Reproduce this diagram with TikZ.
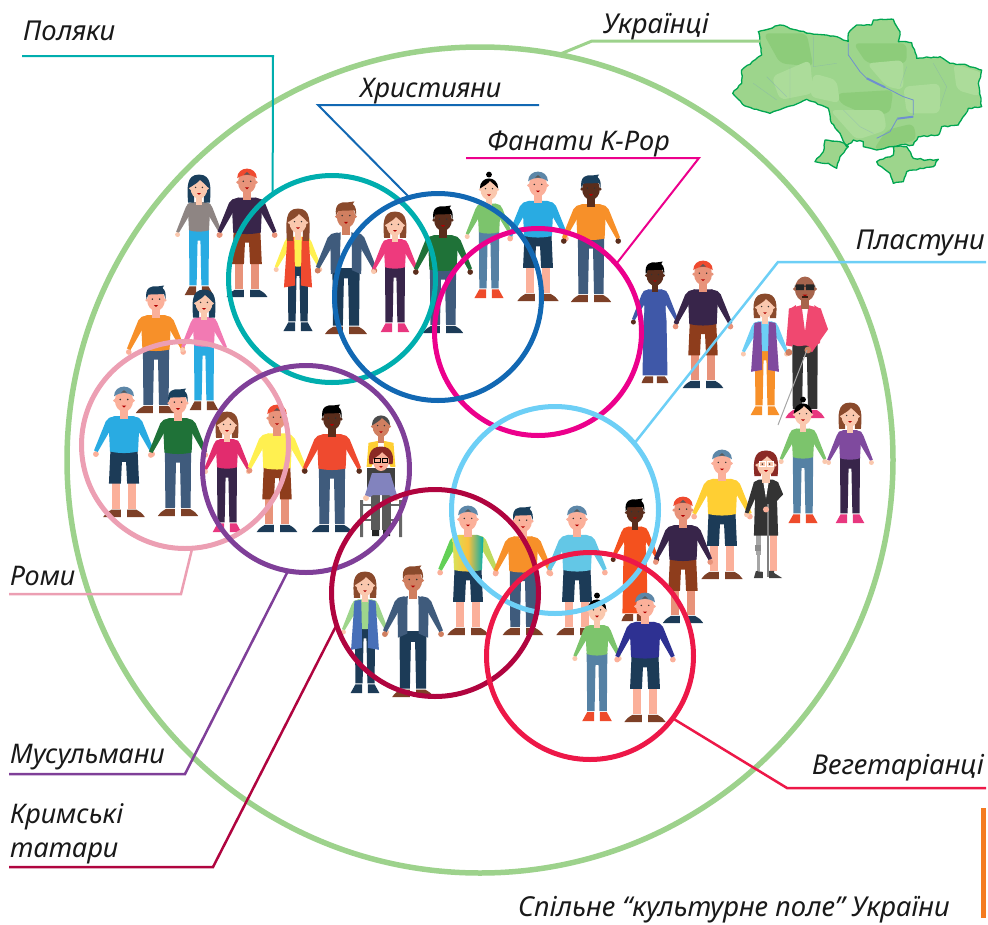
\documentclass[tikz,border=0pt]{standalone}
\usepackage{fontspec}
\usetikzlibrary{decorations.pathmorphing}
\setmainfont{Noto Sans}
\definecolor{cOuter}{HTML}{9DD28C}
\definecolor{cTeal}{HTML}{00AEAE}
\definecolor{cBlue}{HTML}{1268B3}
\definecolor{cMag}{HTML}{EC008C}
\definecolor{cLBlue}{HTML}{6DCFF6}
\definecolor{cCrim}{HTML}{ED1848}
\definecolor{cDRed}{HTML}{B0043F}
\definecolor{cPurp}{HTML}{7F3F98}
\definecolor{cPink}{HTML}{EC9FB3}
\definecolor{cBar}{HTML}{F47B20}
\definecolor{skL}{HTML}{FAC8AE}
\definecolor{skP}{HTML}{FBB09A}
\definecolor{skM}{HTML}{E8937A}
\definecolor{skT}{HTML}{D07F60}
\definecolor{skD}{HTML}{5A2D1C}
\definecolor{hNavy}{HTML}{1A3F5C}
\definecolor{hBrown}{HTML}{8A4A2C}
\definecolor{hRed}{HTML}{8B2A25}
\definecolor{capB}{HTML}{5D87A8}
\definecolor{capR}{HTML}{EF4A2F}
\definecolor{pNavy}{HTML}{1C3B57}
\definecolor{pSlate}{HTML}{3F5B7C}
\definecolor{pSteel}{HTML}{5581A4}
\definecolor{pPlum}{HTML}{38254A}
\definecolor{pCyan}{HTML}{29ABE2}
\definecolor{pRust}{HTML}{8E3D1C}
\definecolor{sGrey}{HTML}{8E8583}
\definecolor{sYell}{HTML}{FFF050}
\definecolor{sGold}{HTML}{FFCF33}
\definecolor{sRed}{HTML}{EF4A2F}
\definecolor{sHot}{HTML}{EE3A7D}
\definecolor{sGreen}{HTML}{1F7238}
\definecolor{sLime}{HTML}{7CC46C}
\definecolor{sOrange}{HTML}{F79029}
\definecolor{sPink}{HTML}{F27AB3}
\definecolor{sSky}{HTML}{63C7E6}
\definecolor{sIndigo}{HTML}{2E3192}
\definecolor{sPurple}{HTML}{7F4A9E}
\definecolor{sDress}{HTML}{3F58A8}
\definecolor{sOrD}{HTML}{F4511E}
\definecolor{sRose}{HTML}{F04870}
\definecolor{fBrown}{HTML}{7D4027}
\definecolor{fPink}{HTML}{E8377F}
\definecolor{fRed}{HTML}{EE4B2B}
\definecolor{mapEdge}{HTML}{00A651}
\definecolor{mapBase}{HTML}{9DD58C}
\definecolor{mapDark}{HTML}{8DCC7A}
\definecolor{mapLight}{HTML}{ACDC9A}
\definecolor{mapRiver}{HTML}{6F8FD0}
\newcommand\mirrored[1]{\foreach \s in {1,-1}{\begin{scope}[xscale=\s]#1\end{scope}}}
\newcommand\person[4]{\begin{scope}[shift={(#1,#2)},scale={(#3-#2)/125}]#4\end{scope}}
% legs
\newcommand\legsM[2]{\fill[#1] (-13,60)--(13,60)--(12.5,117)--(3,117)--(2,72)--(-2,72)--(-3,117)--(-12.5,117)--cycle;
 \mirrored{\fill[#2] (3,118)--(3,125)--(20,125)..controls(17,121)..(12,118)--cycle;}}
\newcommand\legsW[2]{\fill[#1] (-10.5,56)--(10.5,56)--(10,115)--(2.5,115)--(1.5,68)--(-1.5,68)--(-2.5,115)--(-10,115)--cycle;
 \mirrored{\fill[#2] (3,116)--(3,125)--(15,125)..controls(13,120)..(10,116)--cycle;}}
\newcommand\shorts[3]{\mirrored{\fill[#2] (4,88) rectangle (12,117);}
 \fill[#1] (-13,60)--(13,60)--(14.5,93)--(3,93)--(2,72)--(-2,72)--(-3,93)--(-14.5,93)--cycle;
 \mirrored{\fill[#3] (3,118)--(3,125)--(20,125)..controls(17,121)..(12,118)--cycle;}}
\newcommand\dress[2]{\mirrored{\fill[#2] (2,118)--(2,125)--(14,125)..controls(12,120)..(10,118)--cycle;}
 \fill[#1] (-9,30)--(9,30)--(12,60)--(13,117)--(-13,117)--(-12,60)--cycle;}
% bodies
\newcommand\armM[2]{\fill[#2] (27,64.5) circle (2.8);\fill[#1] (8,28)--(14,29.5)--(17.5,33)--(28.8,61)--(25.3,62.5)--(13.5,42)--cycle;}
\newcommand\armW[2]{\fill[#2] (22.5,61.5) circle (2.6);\fill[#1] (6,27.5)--(11.5,29)--(14,33)--(24,58.5)--(21,59.5)--(10.5,42)--cycle;}
\newcommand\bodyM[2]{\mirrored{\armM{#1}{#2}}
 \fill[#1] (-9,28)--(9,28)--(15,30.5)--(13.5,62)..controls(5,64)and(-5,64)..(-13.5,62)--(-15,30.5)--cycle;}
\newcommand\bodyW[2]{\mirrored{\armW{#1}{#2}}
 \fill[#1] (-7,27.5)--(7,27.5)--(12,30)--(10.5,57)..controls(4,59)and(-4,59)..(-10.5,57)--(-12,30)--cycle;}
\newcommand\blazer[2]{\mirrored{\armM{#1}{#2}}
 \fill[white] (-6,28) rectangle (6,62);
 \mirrored{\fill[#1] (5,28)--(15,30.5)--(14.5,68)--(5.5,64)--(5.5,42)--cycle;}}
\newcommand\vest[1]{\mirrored{\fill[#1] (4,28)--(11,29)--(14.5,80)--(3,78)--(3.5,45)--cycle;}}
% heads
\newcommand\head[1]{\fill[#1] (-3.5,17) rectangle (3.5,30.5);
 \fill[#1] (-9,13) circle (1.6) (9,13) circle (1.6);
 \fill[#1] (0,13) ellipse (8.8 and 10.8);
 \fill[black!80] (-3.6,12) circle (.8) (3.6,12) circle (.8);
 \fill[red!70!black] (-2,18)--(2,18)--(0,19.8)--cycle;}
\newcommand\hShort[1]{\fill[#1] (-9.5,12)..controls(-11.5,0)and(-4,-1.5)..(1,-.5)--(8,-1.5)--(6.5,1)..controls(9.5,3)and(10,8)..(9.5,12)--(8,7)--(-7.5,7.5)--cycle;}
\newcommand\hCap[1]{\fill[#1] (-9.6,9)..controls(-9.6,-3.5)and(9.6,-3.5)..(9.6,9)..controls(3,4.5)and(-3,4.5)..(-9.6,9)--cycle;
 \fill[black!65] (-3,5.5)--(3,5.5)--(0,3)--cycle;}
\newcommand\hBack[2]{\fill[#1] (0,-1.5)..controls(-13.5,-1.5)and(-12.5,12)..(-11.5,#2)--(-5,#2)--(-5,10)--(5,10)--(5,#2)--(11.5,#2)..controls(12.5,12)and(13.5,-1.5)..(0,-1.5)--cycle;}
\newcommand\hFringe[1]{\fill[#1] (-9.5,12)..controls(-9.5,-2)and(9.5,-2)..(9.5,12)..controls(6,8)and(3,6)..(1,4)..controls(-1,7)and(-5,9)..(-9.5,12)--cycle;}
\newcommand\hBun{\fill[black] (0,-2.5) circle (3);\hFringe{black}}
% assembled
\newcommand\wom[7]{\legsW{#3}{#4}\bodyW{#2}{#1}\hBack{#5}{#6}\head{#1}\hFringe{#5}#7}
\newcommand\bunw[4]{\legsW{#3}{#4}\bodyW{#2}{#1}\head{#1}\hBun}
\newcommand\mlong[6]{\legsM{#3}{#4}\bodyM{#2}{#1}\head{#1}#5{#6}}
\newcommand\mshort[6]{\shorts{#3}{#1}{#4}\bodyM{#2}{#1}\head{#1}#5{#6}}
\tikzset{
 ring/.style={circle,draw=#1,line width=5pt,minimum size=207pt,inner sep=0pt,outer sep=0pt},
 lab/.style={font=\fontsize{27}{34}\selectfont\itshape,inner sep=0pt,text=black!90},
 labwide/.style={font=\fontsize{27.4}{34}\selectfont\itshape,inner sep=0pt,text=black!90},
 conn/.style={draw=#1,line width=2pt,line join=miter},
 wiggle/.style={decorate,decoration={random steps,segment length=3.5pt,amplitude=.7pt}}
}
\pgfmathsetseed{7}
\begin{document}
\begin{tikzpicture}[x=1pt,y=-1pt]
\useasboundingbox (0,0) rectangle (988,924);
% map
\begin{scope}[shift={(700,0)},scale=1/3]
 \def\mainland{(175,95)--(240,75)--(290,90)--(330,100)--(400,108)--(445,125)--(445,100)--(470,75)--(515,75)--(520,60)--(580,58)--(600,95)--(595,125)--(635,128)--(650,175)--(720,170)--(750,190)--(800,195)--(845,210)--(835,250)--(845,320)--(805,325)--(775,375)--(725,380)--(715,405)--(655,410)--(640,435)--(600,435)--(530,450)--(490,440)--(490,425)--(460,420)--(440,440)--(420,400)--(395,370)--(385,325)--(320,298)--(270,318)--(210,340)--(135,318)--(98,280)--(125,250)--(125,210)--(185,165)--cycle}
 \def\budjak{(375,420)--(420,425)--(445,440)--(420,470)--(410,505)--(385,490)--(345,485)--(370,455)--cycle}
 \def\crimea{(530,485)--(580,465)--(580,440)--(620,440)--(640,475)--(680,480)--(715,478)--(700,500)--(660,505)--(620,515)--(610,545)--(580,550)--(570,520)--(535,495)--cycle}
 \fill[mapBase] \mainland;
 \begin{scope}
  \clip \mainland;
  \fill[mapDark,rounded corners=6pt] (410,280)--(580,270)--(570,340)--(500,345)--(420,310)--cycle;
  \fill[mapDark,rounded corners=6pt] (190,100)--(320,100)--(340,200)--(240,190)--cycle;
  \fill[mapDark,rounded corners=6pt] (460,130)--(620,130)--(620,190)--(500,190)--cycle;
  \fill[mapDark,rounded corners=6pt] (560,390)--(640,370)--(650,420)--(520,450)--cycle;
  \fill[mapLight,rounded corners=6pt] (215,230)--(330,180)--(340,280)--(240,300)--cycle;
  \fill[mapLight,rounded corners=6pt] (340,220)--(410,240)--(420,310)--(330,290)--cycle;
  \fill[mapLight,rounded corners=6pt] (390,330)--(550,330)--(560,390)--(470,420)--cycle;
  \fill[mapLight,rounded corners=6pt] (500,190)--(610,180)--(610,270)--(560,260)--cycle;
  \fill[mapLight,rounded corners=6pt] (610,260)--(720,250)--(720,340)--(620,340)--cycle;
  \fill[mapLight,rounded corners=6pt] (760,190)--(850,220)--(840,290)--(770,270)--cycle;
  \draw[mapRiver,opacity=.3,line width=.4pt] (200,230)--(260,290) (270,200)--(270,300) (340,110)--(340,200)--(410,190) (620,200)--(600,260) (700,190)--(740,260)--(720,320) (430,330)--(480,380)--(520,400) (160,250)--(230,300);
 \end{scope}
 \fill[mapBase] \budjak;
 \draw[mapEdge,line width=1.3pt,line join=round,wiggle] \budjak;
 \fill[mapBase] \crimea;
 \draw[mapEdge,line width=1.3pt,line join=round,wiggle] \crimea;
 \draw[mapEdge,line width=1.3pt,line join=round,wiggle] \mainland;
 \draw[mapRiver,line width=.8pt] (445,130)--(445,165)--(480,215)--(500,235);
 \draw[mapRiver,line width=2pt] (500,235)--(555,262);
 \draw[mapRiver,line width=.8pt] (555,262)--(610,290)--(640,300)--(640,345);
 \draw[mapRiver,line width=2pt] (640,350)--(592,356);
 \draw[mapRiver,line width=.8pt] (592,356)--(570,395)--(530,415);
\end{scope}
% top group
\person{199}{176}{295}{\wom{skL}{sGrey}{pCyan}{fBrown}{hNavy}{28}{}}
\person{247}{169}{297}{\mshort{skM}{pPlum}{pRust}{pNavy}{\hCap}{capR}}
\person{298}{210}{331}{\legsW{pNavy}{pNavy}\bodyW{sYell}{skL}\vest{sRed}\hBack{hBrown}{32}\head{skL}\hFringe{hBrown}}
\person{346}{203}{334}{\legsM{pNavy}{fBrown}\blazer{pSlate}{skT}\head{skT}\hShort{hBrown}}
\person{395}{213}{332}{\wom{skL}{sHot}{pPlum}{fPink}{hBrown}{26}{}}
\person{443}{207}{333}{\legsM{pSlate}{pNavy}\bodyM{sGreen}{skD}\head{skD}\hShort{black}}
\person{489}{177}{298}{\bunw{skL}{sLime}{pSteel}{fRed}}
\person{538}{172}{301}{\mshort{skP}{pCyan}{pNavy}{fBrown}{\hCap}{capB}}
\person{591}{176}{302}{\mlong{skD}{sOrange}{pSlate}{fBrown}{\hShort}{hNavy}}
\person{655}{263}{383}{\dress{sDress}{fBrown}\bodyW{sDress}{skD}\head{skD}\hShort{black}}
\person{703}{261}{388}{\mshort{skM}{pPlum}{pRust}{pNavy}{\hCap}{capR}}
% right group
\person{765}{295}{415}{\legsW{sOrange}{sOrange}\bodyW{cLBlue}{skL}\vest{sPurple}\hBack{hBrown}{24}\head{skL}\hFringe{hBrown}}
% blind man with cane
\person{805}{274}{418}{%
 \begin{scope}[xscale=.85]\legsM{black!80}{fPink}\end{scope}
 \fill[skT] (-14,68) circle (3);
 \fill[sRose] (-8,27)--(-14,31)--(-16.5,62)--(-11,63)--(-8,42)--cycle;
 \fill[sRose] (8,27)--(14,31)--(20,48)--(6,68)--(2.5,64)--(12,48)--cycle;
 \fill[skT] (2.5,66) circle (3);
 \fill[white] (-5,28) rectangle (5,50);
 \mirrored{\fill[sRose] (3,27)--(14,30)--(13,60)..controls(7,63)..(0,62)--(0,50)--cycle;}
 \head{skT!80!black}
 \fill[black!85] (-8,9) rectangle (-1,14) (1,9) rectangle (8,14) (-9,10) rectangle (9,11);
 \fill[black!60!hBrown] (-3,19) rectangle (3,21);}
\draw[black!35,line width=1pt] (807,350)--(778,425);
\person{803}{402}{523}{\bunw{skL}{sLime}{pSteel}{fRed}}
\person{850}{404}{523}{\wom{skL}{sPurple}{pPlum}{fPink}{hBrown}{26}{}}
\person{722}{450}{579}{\mshort{skP}{sGold}{pNavy}{fBrown}{\hCap}{capB}}
% woman with prosthesis
\person{766}{452}{578}{%
 \fill[black!35] (-10,80) rectangle (-5,102);\fill[black!45] (-10.5,92) rectangle (-4.5,98);\fill[black!35] (-9,102) rectangle (-6,118);
 \fill[black!75] (-12,125)--(-3,125)--(-3,119)--(-10,118)--cycle;
 \fill[skP] (4,80) rectangle (11,118);
 \fill[black!75] (3,118) rectangle (8,125) (8,120)--(16,125)--(8,125)--cycle;
 \fill[black!80] (-11,50)--(11,50)--(12,83)--(-12,83)--cycle;
 \fill[skL] (-19,62) circle (2.8);
 \fill[black!80] (-7,27.5)--(-12,30)--(-21,60)--(-17.5,61)--(-9,42)--cycle;
 \fill[black!80] (-7,27.5)--(7,27.5)--(12,30)--(10.5,55)--(-10.5,55)--(-12,30)--cycle;
 \fill[white] (-3,28)--(3,28)--(0,46)--cycle;
 \fill[black!80] (7,28)--(12,30)--(17,42)--(2,58)--(-1,55)--(10,42)--cycle;
 \fill[black!50] (1,52) rectangle (3,124);
 \fill[skP] (0,57) circle (3);
 \hBack{hRed}{24}\head{skL}\hFringe{hRed}
 \draw[white,line width=.8pt] (-7,9) rectangle (-1,14) (1,9) rectangle (7,14);}
% left group
\person{156}{287}{413}{\mlong{skP}{sOrange}{pSlate}{fBrown}{\hShort}{hNavy}}
\person{204}{291}{410}{\wom{skL}{sPink}{pCyan}{fBrown}{hNavy}{28}{}}
\person{124}{387}{517}{\mshort{skP}{pCyan}{pNavy}{fBrown}{\hCap}{capB}}
\person{178}{390}{516}{\mlong{skP}{sGreen}{pSlate}{fBrown}{\hShort}{hNavy}}
\person{227}{413}{532}{\legsW{pPlum}{fPink}\bodyW{sHot!75!purple}{skL}\hBack{hBrown}{26}\head{skL}\hFringe{hBrown}}
\person{277}{405}{532}{\mshort{skM}{sYell}{pRust}{pNavy}{\hCap}{capR}}
\person{332}{406}{532}{\mlong{skD}{sRed}{pSlate}{pNavy}{\hShort}{black}}
% wheelchair group
\person{381}{414}{534}{\mirrored{\fill[sGold] (3,28)--(13,30)--(15,55)--(10,55)--(3,40)--cycle;}\head{skT}\hFringe{black!70}}
\fill[black!75] (367,468) rectangle (395,492);
\fill[black!60] (360,500) rectangle (363,537) (399,500) rectangle (402,537);
\draw[black!60,line width=1.2pt] (361,505)--(401,505) (361,520)--(401,520);
\fill[black!65] (371,492) rectangle (391,530);
\fill[white] (380.2,495) rectangle (381.8,530);
\fill[black!85] (372,530) rectangle (379,536) (383,530) rectangle (390,536);
\fill[skL] (366,498) circle (3) (396,498) circle (3);
\fill[sIndigo!60!white] (372,473)--(390,473)--(397,495)--(392,497)--(389,495)--(373,495)--(370,497)--(365,495)--cycle;
\person{381}{448}{573}{\hBack{hRed}{16}\fill[skP] (0,13) ellipse (8 and 10);\hFringe{hRed}\draw[black,line width=.7pt] (-6.5,10) rectangle (-1,14) (1,10) rectangle (6.5,14);\fill[red!70!black] (-2,18)--(2,18)--(0,19.8)--cycle;}
% centre group
\person{468}{506}{635}{\shorts{pNavy}{skP}{fBrown}%
 \armM{sYell!50!sLime}{skP}
 \begin{scope}[xscale=-1]\armM{sLime!80!green}{skP}\end{scope}
 \shade[left color=sYell!70!sLime,right color=cTeal,middle color=sYell!50!sOrange] (-9,28)--(9,28)--(15,30.5)--(13.5,62)..controls(5,64)and(-5,64)..(-13.5,62)--(-15,30.5)--cycle;
 \head{skP}\hCap{capB}}
\person{523}{508}{635}{\mlong{skP}{sOrange}{pSlate}{fBrown}{\hShort}{hNavy}}
\person{577}{506}{635}{\mshort{skP}{sSky}{pNavy}{fBrown}{\hCap}{capB}}
\person{635}{500}{621}{\dress{sOrD}{fBrown}\bodyW{sOrD}{skD}\head{skD}\hShort{black}}
\person{683}{497}{623}{\mshort{skM}{pPlum}{pRust}{pNavy}{\hCap}{capR}}
\person{365}{573}{693}{\legsW{pNavy}{pNavy}\bodyW{mapLight!70!sLime}{skL}\vest{sDress!80!cLBlue}\hBack{hBrown}{26}\head{skL}\hFringe{hBrown}}
\person{413}{567}{697}{\legsM{pNavy}{fBrown}\blazer{pSlate}{skT}\head{skT}\hShort{hBrown}}
\person{597}{598}{721}{\bunw{skL}{sLime}{pSteel}{fRed}}
\person{645}{593}{722}{\mshort{skP}{sIndigo}{pNavy}{fBrown}{\hCap}{capB}}
% rings
\node[ring=cOuter,minimum size=826pt,line width=5.5pt] (rOuter) at (480,460) {};
\node[ring=cPink] (rPink) at (185,445) {};
\node[ring=cTeal] (rTeal) at (332,279) {};
\node[ring=cMag] (rMag) at (538,332) {};
\node[ring=cBlue] (rBlue) at (438,297) {};
\node[ring=cPurp] (rPurp) at (306,469) {};
\node[ring=cLBlue] (rLB) at (555,510) {};
\node[ring=cDRed] (rDRed) at (435,593) {};
\node[ring=cCrim] (rCrim) at (590,656) {};
% labels
\node[labwide,anchor=base west] (lPol) at (23,40) {Поляки};
\node[lab,anchor=base west] (lChr) at (360,97) {Християни};
\node[lab,anchor=base west] (lKpop) at (487,150) {Фанати K-Pop};
\node[labwide,anchor=base west] (lUkr) at (603,33) {Українці};
\node[labwide,anchor=base east] (lPlast) at (985,249) {Пластуни};
\node[lab,anchor=base west] (lRomy) at (10,585) {Роми};
\node[lab,anchor=base west] (lMus) at (10,763) {Мусульмани};
\node[lab,anchor=base west] (lKrym) at (10,823) {Кримські};
\node[lab,anchor=base west] (lTat) at (10,857) {татари};
\node[labwide,anchor=base east] (lVeg) at (984,774) {Вегетаріанці};
\node[labwide,anchor=base west] (lField) at (518,916) {Спільне “культурне поле” України};
% connector bends
\coordinate (a0) at (22,56); \coordinate (a1) at (273,56);
\coordinate (b0) at (539,105); \coordinate (b1) at (318,105);
\coordinate (c0) at (466,158); \coordinate (c1) at (699,158);
\coordinate (d0) at (760,41); \coordinate (d1) at (592,41);
\coordinate (e0) at (986,262); \coordinate (e1) at (778,262);
\coordinate (f0) at (9,594); \coordinate (f1) at (181,594);
\coordinate (g0) at (9,774); \coordinate (g1) at (185,774);
\coordinate (h0) at (9,867); \coordinate (h1) at (213,867);
\coordinate (i0) at (986,788); \coordinate (i1) at (787,788);
\draw[conn=cTeal] (a0)--(a1)--(rTeal.125.5);
\draw[conn=cBlue] (b0)--(b1)--(rBlue.106);
\draw[conn=cMag] (c0)--(c1)--(rMag.41);
\draw[conn=cOuter,line width=3pt] (d0)--(d1)--(rOuter.79);
\draw[conn=cLBlue,line width=2.5pt] (e0)--(e1)--(rLB.40);
\draw[conn=cPink,line width=2.5pt] (f0)--(f1)--(rPink.-86);
\draw[conn=cPurp,line width=2.5pt] (g0)--(g1)--(rPurp.-100);
\draw[conn=cDRed,line width=2.5pt] (h0)--(h1)--(rDRed.198.6);
\draw[conn=cCrim,line width=2.5pt] (i0)--(i1)--(rCrim.-37);
\fill[cBar] (981,808) rectangle (986,918);
\end{tikzpicture}
\end{document}
